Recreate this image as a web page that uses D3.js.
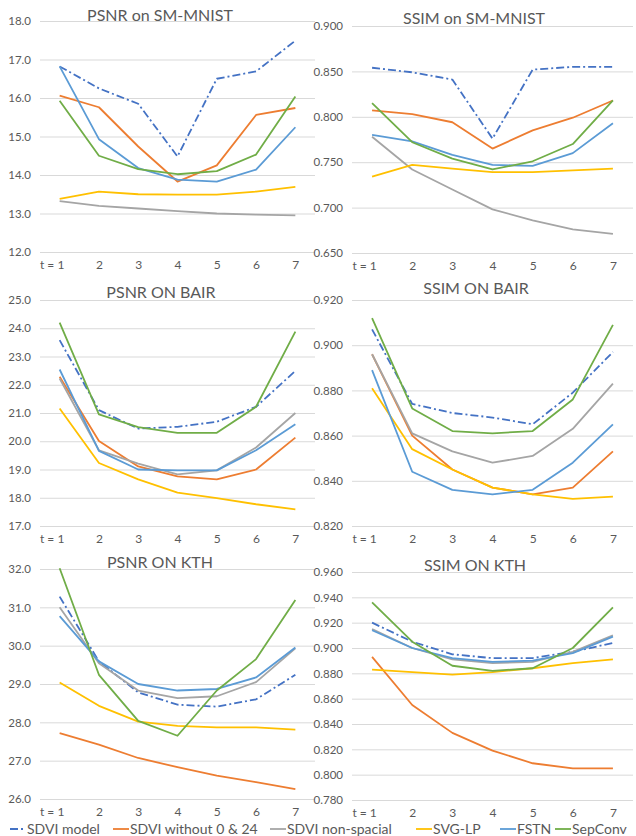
<!DOCTYPE html>
<html>
<head>
<meta charset="utf-8">
<script src="https://cdn.jsdelivr.net/npm/d3@7"></script>
<style>
  body { margin: 0; background: #fff; }
  text { font-family: Lato, "Open Sans", sans-serif; fill: #595959; }
</style>
</head>
<body>
<div id="container"></div>
<script>
// time steps and series
const steps = [1, 2, 3, 4, 5, 6, 7];
const seriesNames = ["SDVI model", "SDVI without 0 & 24", "SDVI non-spacial", "SVG-LP", "FSTN", "SepConv"];
const seriesColors = ["#4472C4", "#ED7D31", "#A5A5A5", "#FFC000", "#5B9BD5", "#70AD47"];

// values per panel, one row per series (same order as seriesNames)
const psnrMnist = [
  [16.82, 16.25, 15.85, 14.48, 16.50, 16.69, 17.49],
  [16.06, 15.76, 14.74, 13.83, 14.25, 15.56, 15.74],
  [13.32, 13.20, 13.13, 13.06, 13.00, 12.97, 12.95],
  [13.38, 13.57, 13.50, 13.49, 13.49, 13.57, 13.69],
  [16.82, 14.93, 14.18, 13.88, 13.83, 14.14, 15.24],
  [15.93, 14.50, 14.15, 14.02, 14.10, 14.53, 16.04]
];
const ssimMnist = [
  [0.854, 0.849, 0.841, 0.776, 0.852, 0.855, 0.855],
  [0.807, 0.803, 0.794, 0.765, 0.785, 0.799, 0.818],
  [0.778, 0.742, 0.720, 0.698, 0.686, 0.676, 0.671],
  [0.734, 0.747, 0.743, 0.739, 0.739, 0.741, 0.743],
  [0.780, 0.773, 0.758, 0.747, 0.746, 0.760, 0.793],
  [0.815, 0.772, 0.754, 0.742, 0.751, 0.770, 0.818]
];
const psnrBair = [
  [23.58, 21.10, 20.45, 20.51, 20.69, 21.22, 22.49],
  [22.28, 20.01, 19.11, 18.76, 18.65, 19.00, 20.13],
  [22.22, 19.68, 19.21, 18.83, 18.97, 19.78, 21.00],
  [21.16, 19.23, 18.65, 18.18, 17.99, 17.77, 17.59],
  [22.54, 19.66, 19.00, 18.97, 18.97, 19.68, 20.60],
  [24.20, 20.95, 20.50, 20.30, 20.30, 21.22, 23.88]
];
const ssimBair = [
  [0.907, 0.874, 0.870, 0.868, 0.865, 0.879, 0.897],
  [0.896, 0.860, 0.845, 0.837, 0.834, 0.837, 0.853],
  [0.896, 0.861, 0.853, 0.848, 0.851, 0.863, 0.883],
  [0.881, 0.854, 0.845, 0.837, 0.834, 0.832, 0.833],
  [0.889, 0.844, 0.836, 0.834, 0.836, 0.848, 0.865],
  [0.912, 0.872, 0.862, 0.861, 0.862, 0.876, 0.909]
];
const psnrKth = [
  [31.28, 29.59, 28.78, 28.46, 28.41, 28.60, 29.24],
  [27.72, 27.42, 27.07, 26.83, 26.61, 26.44, 26.26],
  [31.00, 29.54, 28.83, 28.63, 28.68, 29.05, 29.93],
  [29.04, 28.43, 28.02, 27.91, 27.87, 27.87, 27.81],
  [30.77, 29.59, 29.00, 28.83, 28.87, 29.17, 29.95],
  [32.02, 29.24, 28.04, 27.65, 28.83, 29.65, 31.19]
];
const ssimKth = [
  [0.920, 0.905, 0.895, 0.892, 0.892, 0.897, 0.904],
  [0.893, 0.855, 0.833, 0.819, 0.809, 0.805, 0.805],
  [0.915, 0.900, 0.891, 0.888, 0.889, 0.897, 0.910],
  [0.883, 0.881, 0.879, 0.881, 0.884, 0.888, 0.891],
  [0.914, 0.900, 0.892, 0.889, 0.890, 0.896, 0.909],
  [0.936, 0.905, 0.886, 0.882, 0.884, 0.900, 0.932]
];

const titles = ["PSNR on SM-MNIST", "SSIM on SM-MNIST", "PSNR ON BAIR", "SSIM ON BAIR", "PSNR ON KTH", "SSIM ON KTH"];
const yDomains = [[12, 18], [0.65, 0.9], [17, 25], [0.82, 0.92], [26, 32], [0.78, 0.96]];
const yTickSteps = [1, 0.05, 1, 0.02, 1, 0.02];
const yTickFormats = [".1f", ".3f", ".1f", ".3f", ".1f", ".3f"];
const panelData = [psnrMnist, ssimMnist, psnrBair, ssimBair, psnrKth, ssimKth];

// layout of each panel's plot area (pixels)
const layout = [
  {x0: 40,  x1: 315, top: 21,  bottom: 252, tx: 160, ty: 15},
  {x0: 352, x1: 633, top: 26,  bottom: 253, tx: 474, ty: 18},
  {x0: 40,  x1: 315, top: 300, bottom: 526, tx: 161, ty: 292},
  {x0: 352, x1: 633, top: 300, bottom: 526, tx: 476, ty: 288},
  {x0: 40,  x1: 315, top: 569, bottom: 799, tx: 160, ty: 562},
  {x0: 352, x1: 633, top: 572, bottom: 800, tx: 475, ty: 565}
];

const svg = d3.select("#container")
  .append("svg")
  .attr("width", 636)
  .attr("height", 836);

function dashFor(i) {
  return i === 0 ? "8,3,2,3" : null;
}

panelData.forEach((data, p) => {
  const L = layout[p];
  const x = d3.scalePoint().domain(steps).range([L.x0, L.x1]).padding(0.5);
  const y = d3.scaleLinear().domain(yDomains[p]).range([L.bottom, L.top]);
  const [lo, hi] = yDomains[p];
  const ticks = d3.range(0, Math.round((hi - lo) / yTickSteps[p]) + 1).map(k => lo + k * yTickSteps[p]);

  //Gridlines + y labels
  const gy = svg.append("g")
    .attr("transform", `translate(${L.x0},0)`)
    .call(d3.axisLeft(y).tickValues(ticks).tickFormat(d3.format(yTickFormats[p]))
      .tickSize(-(L.x1 - L.x0)).tickPadding(9));
  gy.select(".domain").remove();
  gy.selectAll("line").attr("stroke", "#D9D9D9").attr("stroke-width", 1);
  gy.selectAll("text").attr("font-size", 11.5).style("fill", "#595959");

  //x labels
  const gx = svg.append("g")
    .attr("transform", `translate(0,${L.bottom})`)
    .call(d3.axisBottom(x).tickSize(0).tickPadding(8));
  gx.select(".domain").remove();
  gx.selectAll("text").attr("font-size", 12).style("fill", "#595959");
  gx.selectAll("text").filter(d => d === steps[0])
    .text("t = 1").attr("text-anchor", "end").attr("dx", "0.35em");

  //Title
  svg.append("text")
    .attr("x", L.tx)
    .attr("y", L.ty)
    .attr("dy", "0.35em")
    .attr("text-anchor", "middle")
    .attr("font-size", 16)
    .text(titles[p]);

  //Lines
  const line = d3.line().x((d, i) => x(steps[i])).y(d => y(d));
  svg.append("g").selectAll("path")
    .data(data)
    .enter()
    .append("path")
    .attr("d", line)
    .attr("fill", "none")
    .attr("stroke", (d, i) => seriesColors[i])
    .attr("stroke-width", 1.8)
    .attr("stroke-dasharray", (d, i) => dashFor(i))
    .attr("stroke-linejoin", "round");
});

//Legend
const legendX = [10, 113, 270, 416, 500, 555];
const legendY = 829;
const leg = svg.append("g").selectAll("g")
  .data(seriesNames)
  .enter()
  .append("g")
  .attr("transform", (d, i) => `translate(${legendX[i]},${legendY})`);
leg.append("line")
  .attr("x1", 0).attr("x2", 16)
  .attr("stroke", (d, i) => seriesColors[i])
  .attr("stroke-width", 1.8)
  .attr("stroke-dasharray", (d, i) => dashFor(i));
leg.append("text")
  .attr("x", 17)
  .attr("dy", "0.35em")
  .attr("font-size", 14)
  .text(d => d);
</script>
</body>
</html>
